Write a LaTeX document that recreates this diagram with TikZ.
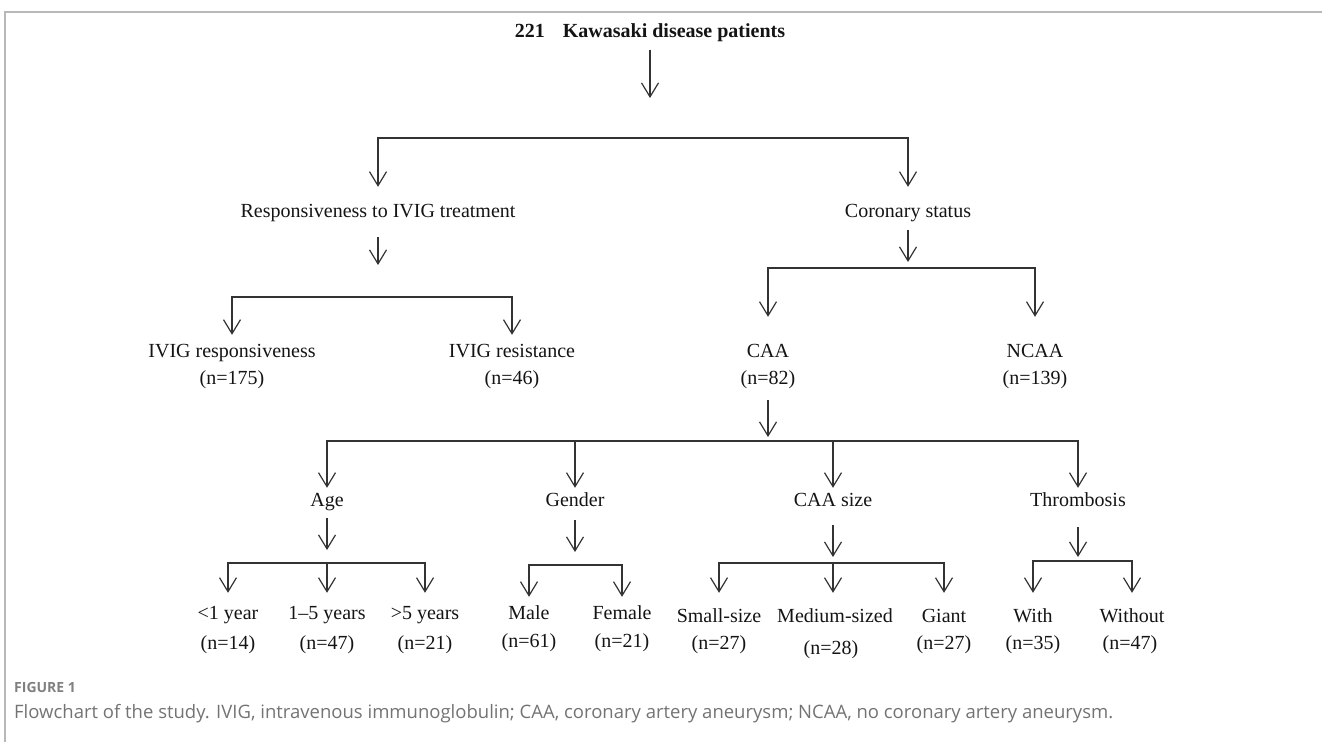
\documentclass[tikz,border=0pt]{standalone}
\usepackage{fontspec}
\setmainfont{Liberation Serif}
\newfontfamily\capfont{Open Sans}
\usetikzlibrary{arrows.meta}

\begin{document}
\begin{tikzpicture}[
  x=1pt, y=-1pt,
  font=\fontsize{20}{24}\selectfont,
  lbl/.style={inner sep=1pt, text height=14pt, text depth=5pt, text=black!92},
  ttl/.style={lbl, font=\fontsize{20}{24}\selectfont\bfseries},
  arr/.style={-{Straight Barb[length=14pt,width=17pt]}, line width=1.2pt, draw=black!80},
  frm/.style={line width=1.5pt, draw=black!28},
  capfig/.style={anchor=west, inner sep=0pt, text=black!50,
                 font=\capfont\fontsize{14}{16}\selectfont\bfseries},
  captxt/.style={anchor=west, inner sep=0pt, text=black!55,
                 font=\capfont\fontsize{18.5}{21}\selectfont}
]
\useasboundingbox (0,0) rectangle (1322,742);

% ---------------- frame ----------------
\draw[frm] (5,742) -- (5,12) -- (1322,12);

% ---------------- all patients ----------------
\node[ttl] (title) at (650,33) {221\hspace{0.9em}Kawasaki disease patients};
\coordinate (j0) at (650,98);
\coordinate (m0) at (650,138);
\draw[arr, shorten <=6pt] (title) -- (j0);

\node[lbl] (resp) at (378,213) {Responsiveness to IVIG treatment};
\node[lbl] (coron) at (908,213) {Coronary status};
\draw[arr, shorten >=15.5pt] (m0) -| (resp);
\draw[arr, shorten >=15.5pt] (m0) -| (coron);

% ---------------- IVIG ----------------
\coordinate (j1) at (378,265);
\coordinate (m1) at (378,297);
\draw[arr, shorten <=13.5pt] (resp) -- (j1);

\node[lbl] (iresp) at (232,353) {IVIG responsiveness};
\node[lbl] (irespn) at (232,380) {(n=175)};
\node[lbl] (iresis) at (512,353) {IVIG resistance};
\node[lbl] (iresisn) at (512,380) {(n=46)};
\draw[arr, shorten >=7.5pt] (m1) -| (iresp);
\draw[arr, shorten >=7.5pt] (m1) -| (iresis);

% ---------------- coronary status ----------------
\coordinate (j2) at (908,262);
\coordinate (m2) at (908,268);
\draw[arr, shorten <=6.5pt] (coron) -- (j2);

\node[lbl] (caa) at (768,353) {CAA};
\node[lbl] (caan) at (768,380) {(n=82)};
\node[lbl] (ncaa) at (1035,353) {NCAA};
\node[lbl] (ncaan) at (1035,380) {(n=139)};
\draw[arr, shorten >=25.5pt] (m2) -| (caa);
\draw[arr, shorten >=25.5pt] (m2) -| (ncaa);

% ---------------- CAA subgroups ----------------
\coordinate (j3) at (768,437);
\coordinate (m3) at (768,441);
\draw[arr, shorten <=9.5pt] (caan) -- (j3);

\node[lbl] (age) at (327,502) {Age};
\node[lbl] (gender) at (575,502) {Gender};
\node[lbl] (caasize) at (833,502) {CAA size};
\node[lbl] (thromb) at (1078,502) {Thrombosis};
\draw[arr, shorten >=3.5pt] (m3) -| (age);
\draw[arr, shorten >=3.5pt] (m3) -| (gender);
\draw[arr, shorten >=3.5pt] (m3) -| (caasize);
\draw[arr, shorten >=3.5pt] (m3) -| (thromb);

% ---------------- age ----------------
\coordinate (j4) at (327,550);
\coordinate (m4) at (327,563);
\draw[arr, shorten <=5.5pt] (age) -- (j4);

\node[lbl] (lt1) at (228,615) {<1 year};
\node[lbl] (lt1n) at (228,645) {(n=14)};
\node[lbl] (a15) at (327,615) {1--5 years};
\node[lbl] (a15n) at (327,645) {(n=47)};
\node[lbl] (gt5) at (425,615) {>5 years};
\node[lbl] (gt5n) at (425,645) {(n=21)};
\draw[arr, shorten >=11.5pt] (m4) -| (lt1);
\draw[arr, shorten >=11.5pt] (m4) -- (a15);
\draw[arr, shorten >=11.5pt] (m4) -| (gt5);

% ---------------- gender ----------------
\coordinate (j5) at (575,552);
\coordinate (m5) at (575,565);
\draw[arr, shorten <=7.5pt] (gender) -- (j5);

\node[lbl] (male) at (529,615) {Male};
\node[lbl] (malen) at (529,643) {(n=61)};
\node[lbl] (female) at (622,615) {Female};
\node[lbl] (femalen) at (622,643) {(n=21)};
\draw[arr, shorten >=7.5pt] (m5) -| (male);
\draw[arr, shorten >=7.5pt] (m5) -| (female);

% ---------------- CAA size ----------------
\coordinate (j6) at (833,557);
\coordinate (m6) at (833,563);
\draw[arr, shorten <=12.5pt] (caasize) -- (j6);

\node[lbl] (small) at (719,618) {Small-size};
\node[lbl] (smalln) at (719,645) {(n=27)};
\node[lbl] (medium) at (835,618) {Medium-sized};
\node[lbl] (mediumn) at (831,650) {(n=28)};
\node[lbl] (giant) at (944,618) {Giant};
\node[lbl] (giantn) at (944,645) {(n=27)};
\draw[arr, shorten >=14.5pt] (m6) -| (small);
\draw[arr, shorten >=14.5pt] (m6) -- (m6 |- medium.north);
\draw[arr, shorten >=14.5pt] (m6) -| (giant);

% ---------------- thrombosis ----------------
\coordinate (j7) at (1078,557);
\coordinate (m7) at (1078,561);
\draw[arr, shorten <=14.5pt] (thromb) -- (j7);

\node[lbl] (with) at (1033,618) {With};
\node[lbl] (withn) at (1033,645) {(n=35)};
\node[lbl] (without) at (1132,618) {Without};
\node[lbl] (withoutn) at (1130,645) {(n=47)};
\draw[arr, shorten >=14.5pt] (m7) -| (with);
\draw[arr, shorten >=14.5pt] (m7) -| (without);

% ---------------- caption ----------------
\node[capfig] (fig) at (14,687) {FIGURE 1};
\node[captxt] (cap) at (14,714) {Flowchart of the study. IVIG, intravenous immunoglobulin; CAA, coronary artery aneurysm; NCAA, no coronary artery aneurysm.};

\end{tikzpicture}
\end{document}
